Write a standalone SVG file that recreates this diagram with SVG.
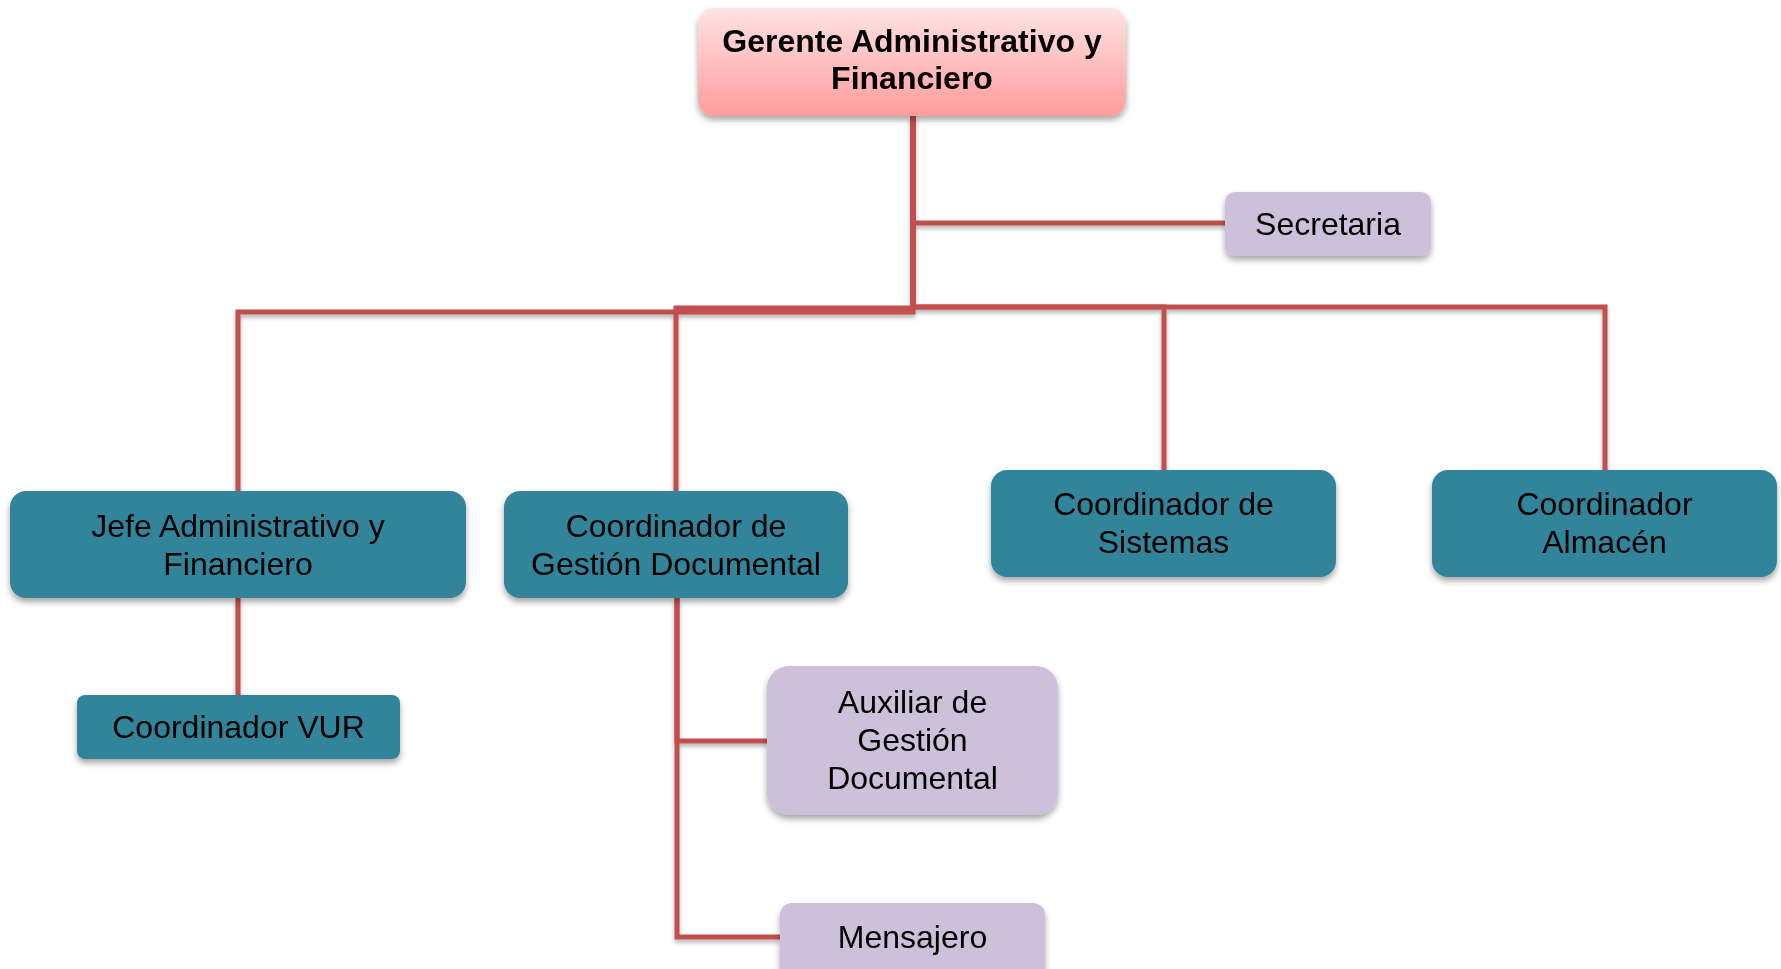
<svg xmlns="http://www.w3.org/2000/svg" width="1781" height="969" viewBox="0 0 1781 969">
<style>
  text { font-family: "Liberation Sans", Arial, sans-serif; font-size: 32px; fill: #000; text-anchor: middle; }
  .bold { font-weight: bold; }
  .teal { fill: #31849B; }
  .lav { fill: #CCC0DA; }
  .conn { fill: none; stroke: #C0504D; stroke-width: 5; stroke-linejoin: miter; }
</style>
<defs>
  <linearGradient id="pinkGrad" x1="0" y1="0" x2="0" y2="1">
    <stop offset="0" stop-color="#FFE3E3"/>
    <stop offset="1" stop-color="#FF9C9C"/>
  </linearGradient>
  <filter id="shadow" x="-10%" y="-10%" width="120%" height="130%">
    <feDropShadow dx="0" dy="4" stdDeviation="3" flood-color="#000" flood-opacity="0.35"/>
  </filter>
  <filter id="lshadow" x="-5%" y="-5%" width="110%" height="110%">
    <feDropShadow dx="0" dy="3" stdDeviation="2" flood-color="#000" flood-opacity="0.3"/>
  </filter>
</defs>
<rect width="1781" height="969" fill="#FFFFFF"/>
<g id="connectors" filter="url(#lshadow)">
  <path class="conn" d="M913 116 V312 H238 V491"/>
  <path class="conn" d="M913 116 V308 H676 V491"/>
  <path class="conn" d="M913 116 V307 H1164 V470"/>
  <path class="conn" d="M913 116 V307 H1605 V470"/>
  <path class="conn" d="M913 116 V223 H1225"/>
  <path class="conn" d="M238 598 V695"/>
  <path class="conn" d="M677 598 V741 H767"/>
  <path class="conn" d="M677 598 V937 H780"/>
</g>
<g id="gerente" filter="url(#shadow)">
  <rect x="698" y="8" width="428" height="108" rx="16" fill="url(#pinkGrad)"/>
  <text class="bold" x="912" y="52">Gerente Administrativo y</text>
  <text class="bold" x="912" y="89">Financiero</text>
</g>
<g id="secretaria" filter="url(#shadow)">
  <rect class="lav" x="1225" y="192" width="206" height="64" rx="10"/>
  <text x="1328" y="235">Secretaria</text>
</g>
<g id="jefe" filter="url(#shadow)">
  <rect class="teal" x="10" y="491" width="456" height="107" rx="16"/>
  <text x="238" y="537">Jefe Administrativo y</text>
  <text x="238" y="575">Financiero</text>
</g>
<g id="gestion" filter="url(#shadow)">
  <rect class="teal" x="504" y="491" width="344" height="107" rx="16"/>
  <text x="676" y="537">Coordinador de</text>
  <text x="676" y="575">Gestión Documental</text>
</g>
<g id="sistemas" filter="url(#shadow)">
  <rect class="teal" x="991" y="470" width="345" height="107" rx="16"/>
  <text x="1163.5" y="515">Coordinador de</text>
  <text x="1163.5" y="553">Sistemas</text>
</g>
<g id="almacen" filter="url(#shadow)">
  <rect class="teal" x="1432" y="470" width="345" height="107" rx="16"/>
  <text x="1604.5" y="515">Coordinador</text>
  <text x="1604.5" y="553">Almacén</text>
</g>
<g id="vur" filter="url(#shadow)">
  <rect class="teal" x="77" y="695" width="323" height="64" rx="8"/>
  <text x="238.5" y="738">Coordinador VUR</text>
</g>
<g id="auxiliar" filter="url(#shadow)">
  <rect class="lav" x="767" y="666" width="291" height="149" rx="22"/>
  <text x="912.5" y="713">Auxiliar de</text>
  <text x="912.5" y="751">Gestión</text>
  <text x="912.5" y="789">Documental</text>
</g>
<g id="mensajero" filter="url(#shadow)">
  <rect class="lav" x="780" y="903" width="265" height="80" rx="12"/>
  <text x="912.5" y="948">Mensajero</text>
</g>
</svg>
